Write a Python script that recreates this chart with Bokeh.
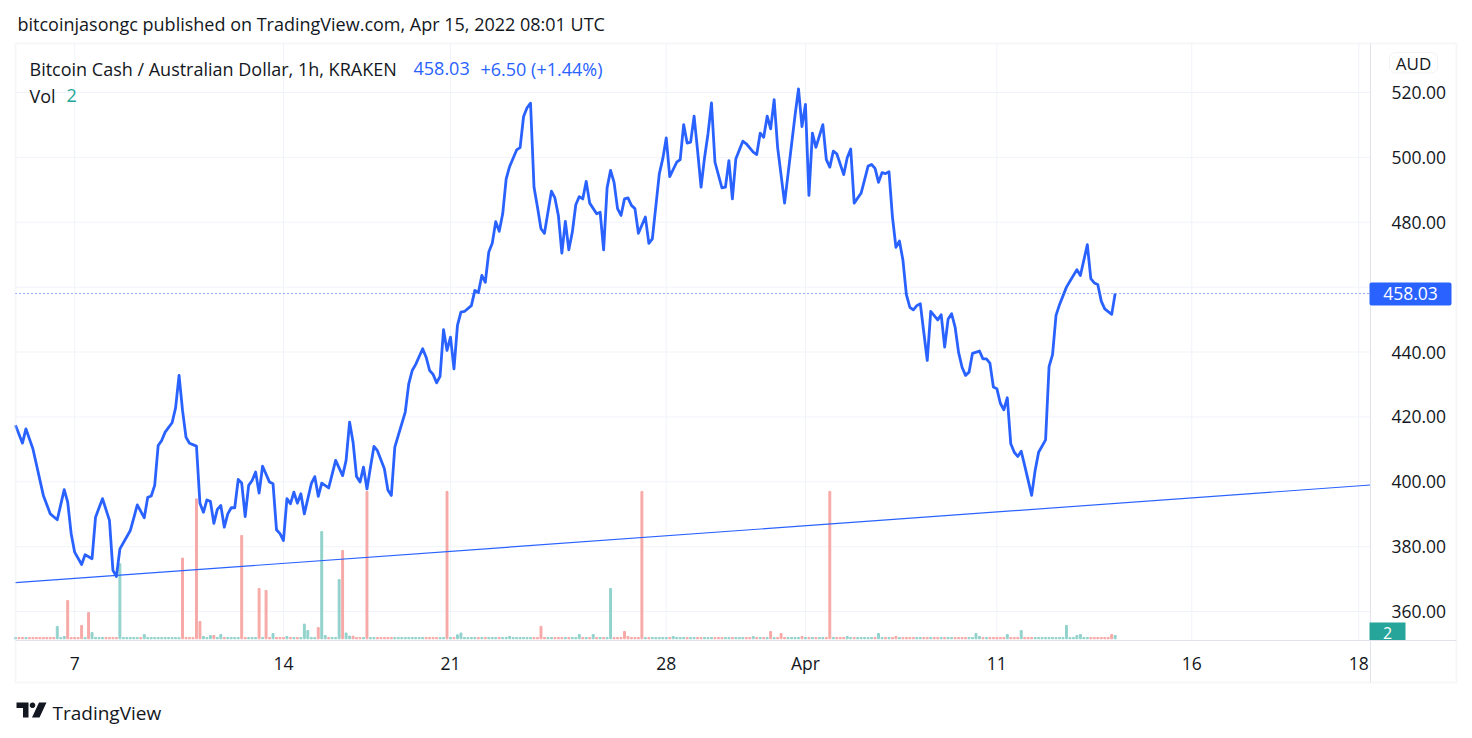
from bokeh.plotting import figure
from bokeh.models import (Range1d, LinearAxis, FixedTicker, NumeralTickFormatter, Label,
                          BoxAnnotation, PolyAnnotation, ColumnDataSource)
from bokeh.embed import file_html
from bokeh.resources import INLINE
import numpy as np

# ---------------- data ----------------
bars = [0, 2, 3, 5, 8, 10, 12, 14, 15, 16, 17, 19, 20, 22, 23, 25, 27, 28, 29, 30,
        33, 34, 35, 37, 38, 39, 40, 41, 42, 43, 45, 46, 47, 48, 49, 50, 52, 53, 54, 55,
        56, 57, 58, 59, 60, 61, 62, 63, 64, 65, 66, 67, 68, 69, 70, 71, 73, 74, 75, 76,
        77, 78, 79, 80, 81, 82, 83, 85, 86, 87, 88, 90, 92, 94, 95, 96, 97, 98, 99, 100,
        101, 102, 103, 104, 106, 107, 108, 109, 110, 112, 113, 114, 115, 117, 118, 119, 120, 121, 122, 123,
        124, 125, 126, 127, 128, 129, 131, 132, 133, 134, 135, 136, 137, 138, 139, 140, 141, 142, 144, 145,
        146, 147, 148, 149, 150, 151, 152, 154, 155, 156, 157, 158, 159, 160, 161, 162, 163, 164, 165, 167,
        168, 169, 170, 171, 172, 173, 174, 175, 176, 177, 178, 179, 181, 182, 183, 185, 186, 187, 188, 190,
        191, 192, 193, 194, 195, 196, 197, 198, 199, 200, 201, 203, 204, 205, 206, 207, 209, 210, 212, 213,
        214, 215, 216, 217, 218, 219, 221, 224, 225, 226, 227, 228, 229, 230, 232, 233, 234, 235, 236, 238,
        239, 240, 241, 243, 245, 246, 247, 248, 249, 250, 251, 252, 253, 254, 255, 256, 257, 258, 259, 260,
        261, 262, 263, 265, 266, 267, 268, 269, 270, 271, 272, 273, 274, 275, 277, 278, 279, 280, 281, 282,
        283, 284, 285, 286, 287, 288, 289, 290, 292, 293, 294, 296, 297, 298, 299, 300, 302, 303, 305, 306,
        308, 309, 310, 311, 312, 313, 315, 316]
prices = [417.4, 411.9, 416.3, 410.2, 395.8, 390.1, 388.3, 397.6, 393.7, 384.0, 378.3, 374.5, 377.5, 376.3, 389.1, 394.8, 388.1, 372.7, 370.8, 379.3,
          385.0, 388.9, 392.9, 388.9, 395.2, 395.6, 398.9, 411.2, 412.7, 415.3, 418.2, 422.8, 432.8, 422.0, 413.7, 411.9, 411.0, 393.4, 390.6, 394.4,
          394.0, 387.2, 391.5, 392.7, 386.0, 390.1, 392.0, 392.0, 400.7, 399.6, 389.3, 398.9, 400.4, 403.0, 396.5, 404.8, 399.9, 399.4, 385.2, 384.0,
          381.9, 394.8, 393.2, 396.8, 393.4, 396.3, 390.1, 399.4, 401.6, 395.5, 399.6, 398.1, 406.6, 401.9, 406.6, 418.4, 412.2, 401.6, 399.9, 404.5,
          397.8, 404.5, 410.9, 409.6, 404.0, 397.5, 395.8, 410.7, 414.3, 421.5, 430.2, 434.3, 436.2, 441.0, 438.4, 434.3, 433.1, 430.5, 432.5, 446.9,
          440.5, 444.6, 434.8, 448.2, 452.3, 452.5, 454.3, 459.0, 458.3, 463.6, 461.5, 470.8, 473.5, 480.2, 477.2, 482.6, 493.4, 497.2, 502.3, 503.0,
          512.6, 515.3, 516.7, 490.8, 484.6, 478.0, 476.6, 489.6, 487.5, 482.1, 470.5, 480.3, 471.5, 476.9, 485.4, 487.9, 487.2, 492.6, 485.9, 482.6,
          483.1, 471.5, 490.6, 496.0, 492.3, 484.2, 482.1, 487.2, 487.5, 485.2, 484.2, 476.6, 481.6, 473.5, 474.9, 494.9, 499.6, 506.0, 494.1, 498.5,
          499.3, 510.1, 504.4, 504.7, 512.7, 502.1, 490.8, 499.9, 507.3, 516.8, 498.5, 490.6, 490.8, 499.0, 487.2, 499.6, 505.0, 504.2, 501.6, 500.9,
          507.5, 506.2, 512.7, 508.8, 517.8, 503.1, 485.9, 512.9, 521.1, 509.5, 516.3, 488.3, 507.5, 503.1, 510.1, 499.3, 497.0, 501.9, 501.1, 494.7,
          499.9, 502.6, 485.9, 489.0, 497.3, 497.8, 496.6, 492.3, 495.3, 495.0, 495.6, 481.6, 472.3, 474.2, 468.4, 457.7, 453.8, 453.0, 454.3, 454.9,
          446.1, 437.4, 452.5, 449.9, 451.5, 441.5, 450.2, 451.8, 447.7, 439.9, 435.3, 432.8, 433.8, 439.6, 440.3, 437.9, 437.9, 436.6, 429.2, 428.7,
          424.2, 422.2, 425.9, 411.7, 409.1, 407.8, 409.4, 405.0, 395.8, 403.5, 409.1, 412.9, 435.5, 439.2, 451.3, 454.6, 460.0, 461.8, 465.4, 463.6,
          473.1, 462.6, 461.3, 460.8, 455.7, 453.3, 451.6, 458.03]

vol_bars = [12, 14, 15, 19, 21, 22, 30, 37, 48, 52,
            53, 54, 56, 57, 59, 65, 70, 72, 74, 78,
            83, 84, 87, 88, 89, 93, 94, 95, 96, 97,
            101, 124, 127, 128, 142, 151, 162, 166, 171, 175,
            176, 180, 189, 212, 217, 220, 226, 234, 239, 248,
            253, 276, 277, 285, 289, 302, 305, 306, 315, 316]
vol_values = [7.5, 1.4, 23.2, 8.1, 15.9, 3.8, 45.5, 2.6, 48.9, 84.8,
              10.5, 1.4, 2.0, 2.0, 2.6, 62.6, 30.5, 29.3, 3.2, 1.4,
              8.9, 5.0, 6.8, 65.0, 2.0, 35.9, 53.5, 3.5, 1.6, 1.6,
              89.3, 89.3, 2.4, 3.5, 1.4, 7.5, 2.6, 2.6, 30.5, 4.4,
              1.4, 89.3, 1.4, 1.4, 4.4, 3.2, 1.4, 89.3, 1.4, 3.2,
              1.4, 3.2, 1.4, 2.6, 5.0, 8.1, 2.0, 2.6, 2.6, 2.0]
vol_up = [1, 1, 0, 0, 0, 1, 1, 1, 0, 0,
          0, 1, 1, 0, 1, 0, 0, 0, 1, 1,
          1, 1, 0, 1, 1, 1, 0, 1, 1, 0,
          0, 0, 1, 1, 1, 0, 1, 1, 1, 0,
          0, 0, 1, 1, 0, 0, 0, 0, 1, 1,
          0, 1, 1, 1, 1, 1, 1, 1, 0, 1]
base_vol = 0.8          # the smallest bars along the bottom

date_ticks = [17, 77, 125, 187, 227, 282, 338, 386]
date_labels = ["7", "14", "21", "28", "Apr", "11", "16", "18"]
price_ticks = [360, 380, 400, 420, 440, 460, 480, 500, 520]

trend_bars = [0, 389.37]
trend_prices = [368.9, 399.0]

last_price = 458.03
change = 6.50
change_pct = 1.44
last_vol = 2

# ---------------- styling / layout ----------------
BLUE = "#2962ff"
GREEN = "#26a69a"
TXT = "#131722"
BORDER = "#e0e3eb"
GRID = "#f0f3fa"
FONT = "Open Sans"
VOL_UP_C = "#92d2cc"
VOL_DN_C = "#f7a9a7"

W, H = 1468, 734
PX_BAR = 3.48          # pixels per bar
PX_PRICE = 3.244       # pixels per price unit
PX_VOL = 1.65          # pixels per volume unit
X0 = 15                # pixel of bar 0
Y520 = 92              # pixel of price 520
VOL_BASE_PX = 638.3


def bx(px):
    return (px - X0) / PX_BAR


def py(px):
    return 520 - (px - Y520) / PX_PRICE


p = figure(width=W, height=H, output_backend="svg", toolbar_location=None,
           x_range=Range1d(bx(0), bx(W)), y_range=Range1d(py(H), py(0)),
           min_border=0, x_axis_location=None, y_axis_location=None)
p.outline_line_color = None
p.xgrid.visible = False
p.ygrid.visible = False
p.background_fill_color = "white"
p.border_fill_color = "white"
p.extra_y_ranges = {"vol": Range1d(-(H - VOL_BASE_PX) / PX_VOL, VOL_BASE_PX / PX_VOL)}

CH_L, CH_R, CH_T, CH_B = 15, 1370, 43, 640      # chart pane in pixels
OUT_R, OUT_B = 1456, 682                         # outer border

# grid lines
p.segment(x0=date_ticks, x1=date_ticks, y0=py(CH_B), y1=py(CH_T), line_color=GRID, line_width=1)
p.segment(x0=bx(CH_L), x1=bx(CH_R), y0=price_ticks, y1=price_ticks, line_color=GRID, line_width=1)

# axes at fixed locations
xaxis = LinearAxis(ticker=FixedTicker(ticks=date_ticks),
                   major_label_overrides={t: l for t, l in zip(date_ticks, date_labels)},
                   fixed_location=py(CH_B), bounds=(bx(CH_L), bx(OUT_R)))
# the label nearest the last-price tag is hidden behind it, as in the reference
hidden = {t: "" for t in price_ticks if abs(t - last_price) < 4}
yaxis = LinearAxis(ticker=FixedTicker(ticks=price_ticks),
                   formatter=NumeralTickFormatter(format="0.00"),
                   major_label_overrides=hidden,
                   fixed_location=bx(CH_R), bounds=(py(OUT_B), py(CH_T)))
for ax in (xaxis, yaxis):
    ax.axis_line_color = BORDER
    ax.axis_line_width = 1
    ax.major_tick_line_color = None
    ax.minor_tick_line_color = None
    ax.major_label_text_color = TXT
    ax.major_label_text_font = FONT
    ax.major_label_text_font_size = "17.5px"
xaxis.major_label_standoff = 4
yaxis.major_label_standoff = 15
p.add_layout(xaxis, "below")
p.add_layout(yaxis, "right")

# volume bars
b_arr = np.array(bars)
p_arr = np.array(prices)
notable = {b: (v, u) for b, v, u in zip(vol_bars, vol_values, vol_up)}
vx, vt, vc = [], [], []
for b in range(0, bars[-1] + 1):
    if b in notable:
        v, u = notable[b]
    else:
        i = int(np.searchsorted(b_arr, b))
        u = 1 if i == 0 or p_arr[min(i, len(p_arr) - 1)] >= p_arr[max(i - 1, 0)] else 0
        v = base_vol
    vx.append(b)
    vt.append(v)
    vc.append(VOL_UP_C if u else VOL_DN_C)
p.vbar(x="x", top="top", bottom=0, width=0.55, color="c", y_range_name="vol",
       source=ColumnDataSource(dict(x=vx, top=vt, c=vc)))

# trend line drawing
p.line(trend_bars, trend_prices, line_color=BLUE, line_width=1.2)

# last price dotted line
p.segment(x0=bx(CH_L), x1=bx(CH_R), y0=last_price, y1=last_price, line_color=BLUE,
          line_dash="1 3", line_width=1)

# price line
p.line(bars, prices, line_color=BLUE, line_width=2.8, line_join="round")


def sy(px):
    return H - px


def box(l, r, t, b, **kw):
    p.add_layout(BoxAnnotation(left=l, right=r, top=sy(t), bottom=sy(b),
                               left_units="screen", right_units="screen",
                               top_units="screen", bottom_units="screen", **kw))


def label(x, y, text, size, color=TXT, align="left", baseline="middle"):
    p.add_layout(Label(x=x, y=sy(y), x_units="screen", y_units="screen", text=text,
                       text_font=FONT, text_font_size=size, text_color=color,
                       text_align=align, text_baseline=baseline))


# outer border of the chart widget
box(CH_L, OUT_R, CH_T, OUT_B, fill_alpha=0, line_color=BORDER, line_width=2)

# currency box on price axis
box(1389, 1437, 52, 72.5, fill_color="white", fill_alpha=1, line_color="#d1d4dc",
    line_width=1, border_radius=6)
label(1413, 62.5, "AUD", "17px", align="center")

# last price label on axis
box(1369, 1451, 282, 305, fill_color=BLUE, fill_alpha=1, line_color=None, border_radius=2)
p.add_layout(Label(x=1410, y=last_price, x_units="screen", text=f"{last_price:.2f}",
                   text_align="center", text_baseline="middle", text_font=FONT,
                   text_font_size="17.5px", text_color="white"))

# last volume label on axis
box(1369, 1405, 622, 639.5, fill_color=GREEN, fill_alpha=1, line_color=None)
label(1387, 632, str(last_vol), "16px", color="white", align="center")

# header
label(17, 23.5, "bitcoinjasongc published on TradingView.com, Apr 15, 2022 08:01 UTC", "18px")

# legend
label(29, 68, "Bitcoin Cash / Australian Dollar, 1h, KRAKEN", "18px")
label(413, 68, f"{last_price:.2f}", "18px", color=BLUE)
label(480, 68, f"+{change:.2f} (+{change_pct:.2f}%)", "18px", color=BLUE)
label(29, 95, "Vol", "18px")
label(66, 95, str(last_vol), "18px", color=GREEN)


# TradingView logo + wordmark (footer)
def poly(pts):
    p.add_layout(PolyAnnotation(xs=[x for x, _ in pts], ys=[sy(y) for _, y in pts],
                                xs_units="screen", ys_units="screen",
                                fill_color=TXT, fill_alpha=1, line_color=None))


poly([(16, 702), (28, 702), (28, 717), (22.5, 717), (22.5, 707.5), (16, 707.5)])
ang = np.linspace(0, 2 * np.pi, 24)
poly(list(zip(32 + 2.8 * np.cos(ang), 704.8 + 2.8 * np.sin(ang))))
poly([(38.5, 702), (46, 702), (39, 717), (31.5, 717)])
label(52, 712, "TradingView", "19px")

open("out.html", "w").write(file_html(p, INLINE))
